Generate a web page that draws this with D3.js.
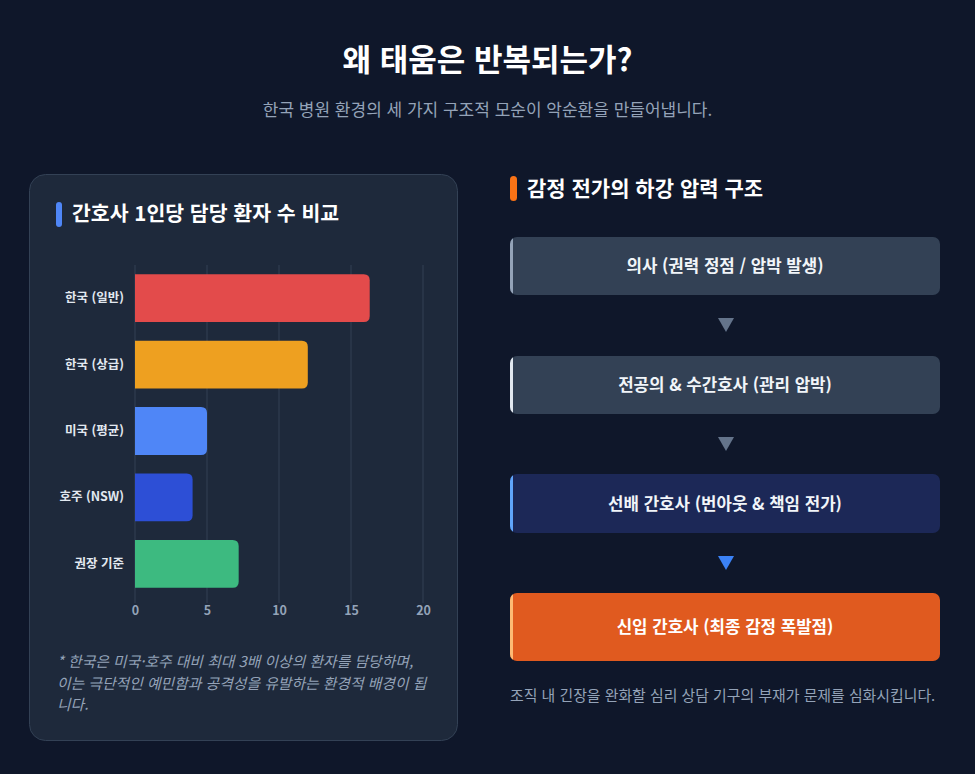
<!DOCTYPE html>
<html lang="ko">
<head>
<meta charset="utf-8">
<script src="https://cdn.jsdelivr.net/npm/d3@7"></script>
<style>
  html, body { margin: 0; padding: 0; background: #0f172a; }
  body { width: 975px; height: 774px; overflow: hidden; font-family: "Noto Sans CJK KR", "Noto Sans", sans-serif; }
  svg { display: block; }
</style>
</head>
<body>
<div id="chart"></div>
<script>
// --- data ---
const categories = ["한국 (일반)", "한국 (상급)", "미국 (평균)", "호주 (NSW)", "권장 기준"];
const patientsPerNurse = [16.3, 12, 5, 4, 7.2];
const barColors = ["#e34b4b", "#eea020", "#4f86f7", "#2d4fd6", "#3dba80"];
const xTicks = [0, 5, 10, 15, 20];

const flowLabels = [
  "의사 (권력 정점 / 압박 발생)",
  "전공의 & 수간호사 (관리 압박)",
  "선배 간호사 (번아웃 & 책임 전가)",
  "신입 간호사 (최종 감정 폭발점)",
];
const flowFills = ["#334155", "#334155", "#1c2857", "#e05a1f"];
const flowAccents = ["#94a3b8", "#e2e8f0", "#60a5fa", "#fdba74"];
const arrowColors = ["#64748b", "#64748b", "#3b82f6"];

const footnoteLines = [
  "* 한국은 미국·호주 대비 최대 3배 이상의 환자를 담당하며,",
  "이는 극단적인 예민함과 공격성을 유발하는 환경적 배경이 됩",
  "니다.",
];

const width = 975;
const height = 774;

const svg = d3.select("#chart").append("svg")
  .attr("width", width)
  .attr("height", height);

svg.append("rect").attr("width", width).attr("height", height).attr("fill", "#0f172a");

// header
svg.append("text")
  .attr("x", width / 2).attr("y", 71)
  .attr("text-anchor", "middle")
  .attr("fill", "#ffffff")
  .attr("font-size", 31).attr("font-weight", 700)
  .text("왜 태움은 반복되는가?");

svg.append("text")
  .attr("x", width / 2).attr("y", 116)
  .attr("text-anchor", "middle")
  .attr("fill", "#94a3b8")
  .attr("font-size", 17)
  .text("한국 병원 환경의 세 가지 구조적 모순이 악순환을 만들어냅니다.");

// --- left card: bar chart ---
const card = svg.append("g");
card.append("rect")
  .attr("x", 29.5).attr("y", 174.5)
  .attr("width", 428).attr("height", 566)
  .attr("rx", 16)
  .attr("fill", "#1e293b")
  .attr("stroke", "#334155");

card.append("rect")
  .attr("x", 56).attr("y", 202).attr("width", 6).attr("height", 25)
  .attr("rx", 3).attr("fill", "#4f86f7");
card.append("text")
  .attr("x", 72).attr("y", 221)
  .attr("fill", "#ffffff")
  .attr("font-size", 20.5).attr("font-weight", 700)
  .text("간호사 1인당 담당 환자 수 비교");

const plot = { left: 135, right: 423, top: 265, bottom: 597 };

const x = d3.scaleLinear().domain([0, 20]).range([plot.left, plot.right]);
const y = d3.scaleBand()
  .domain(categories)
  .range([plot.top, plot.bottom])
  .paddingInner(0.28)
  .paddingOuter(0.14);

// grid
card.append("g")
  .selectAll("line")
  .data(xTicks)
  .join("line")
  .attr("x1", (d) => x(d)).attr("x2", (d) => x(d))
  .attr("y1", plot.top).attr("y2", plot.bottom + 6)
  .attr("stroke", "#334155").attr("stroke-width", 1);

// bars, rounded on the value end only
const barPath = (d, i) => {
  const x0 = x(0), x1 = x(d), y0 = y(categories[i]), h = y.bandwidth();
  const r = Math.min(6, (x1 - x0) / 2);
  return `M${x0},${y0}H${x1 - r}Q${x1},${y0} ${x1},${y0 + r}V${y0 + h - r}Q${x1},${y0 + h} ${x1 - r},${y0 + h}H${x0}Z`;
};
card.append("g")
  .selectAll("path")
  .data(patientsPerNurse)
  .join("path")
  .attr("d", barPath)
  .attr("fill", (d, i) => barColors[i]);

// y axis labels
const gy = card.append("g")
  .attr("transform", `translate(${plot.left - 11},0)`)
  .call(d3.axisLeft(y).tickSize(0).tickPadding(0))
  .call((g) => g.select(".domain").remove());
gy.selectAll("text")
  .attr("fill", "#e2e8f0")
  .attr("font-size", 12.5).attr("font-weight", 700)
  .attr("font-family", "'Noto Sans CJK KR', sans-serif");

// x axis labels
const gx = card.append("g")
  .attr("transform", `translate(0,${plot.bottom + 9})`)
  .call(d3.axisBottom(x).tickValues(xTicks).tickSize(0).tickPadding(0))
  .call((g) => g.select(".domain").remove());
gx.selectAll("text")
  .attr("fill", "#94a3b8")
  .attr("font-size", 12.5).attr("font-weight", 700)
  .attr("font-family", "'Noto Sans CJK KR', sans-serif");

// footnote
card.append("g")
  .selectAll("text")
  .data(footnoteLines)
  .join("text")
  .attr("x", 57)
  .attr("y", (d, i) => 667 + i * 21.5)
  .attr("fill", "#94a3b8")
  .attr("font-size", 14.8)
  .attr("font-style", "italic")
  .text((d) => d);

// --- right column: pressure flow ---
const flow = svg.append("g");
flow.append("rect")
  .attr("x", 510).attr("y", 176).attr("width", 7).attr("height", 25)
  .attr("rx", 3.5).attr("fill", "#f97316");
flow.append("text")
  .attr("x", 527).attr("y", 196)
  .attr("fill", "#ffffff")
  .attr("font-size", 21).attr("font-weight", 700)
  .text("감정 전가의 하강 압력 구조");

const boxX = 510, boxW = 430;
const boxTops = [237, 356, 474, 593];
const boxHeights = [58, 58, 59, 68];

const boxes = flow.selectAll("g.box")
  .data(flowLabels)
  .join("g")
  .attr("class", "box");

boxes.append("clipPath")
  .attr("id", (d, i) => `clip${i}`)
  .append("rect")
  .attr("x", boxX).attr("y", (d, i) => boxTops[i])
  .attr("width", boxW).attr("height", (d, i) => boxHeights[i])
  .attr("rx", 7);

boxes.append("rect")
  .attr("x", boxX).attr("y", (d, i) => boxTops[i])
  .attr("width", boxW).attr("height", (d, i) => boxHeights[i])
  .attr("rx", 7)
  .attr("fill", (d, i) => flowFills[i]);

boxes.append("rect")
  .attr("clip-path", (d, i) => `url(#clip${i})`)
  .attr("x", boxX).attr("y", (d, i) => boxTops[i])
  .attr("width", 3).attr("height", (d, i) => boxHeights[i])
  .attr("fill", (d, i) => flowAccents[i]);

boxes.append("text")
  .attr("x", boxX + boxW / 2)
  .attr("y", (d, i) => boxTops[i] + boxHeights[i] / 2 + 6)
  .attr("text-anchor", "middle")
  .attr("fill", (d, i) => (i === 3 ? "#ffffff" : "#f1f5f9"))
  .attr("font-size", 16.8)
  .attr("font-weight", 700)
  .text((d) => d);

// arrows between boxes
flow.selectAll("path.arrow")
  .data(arrowColors)
  .join("path")
  .attr("class", "arrow")
  .attr("d", (d, i) => {
    const cx = boxX + boxW / 2 + 1;
    const top = boxTops[i] + boxHeights[i] + 23;
    return `M${cx - 8},${top}L${cx + 8},${top}L${cx},${top + 14}Z`;
  })
  .attr("fill", (d) => d);

flow.append("text")
  .attr("x", 510).attr("y", 701)
  .attr("fill", "#94a3b8")
  .attr("font-size", 14.9)
  .text("조직 내 긴장을 완화할 심리 상담 기구의 부재가 문제를 심화시킵니다.");
</script>
</body>
</html>
